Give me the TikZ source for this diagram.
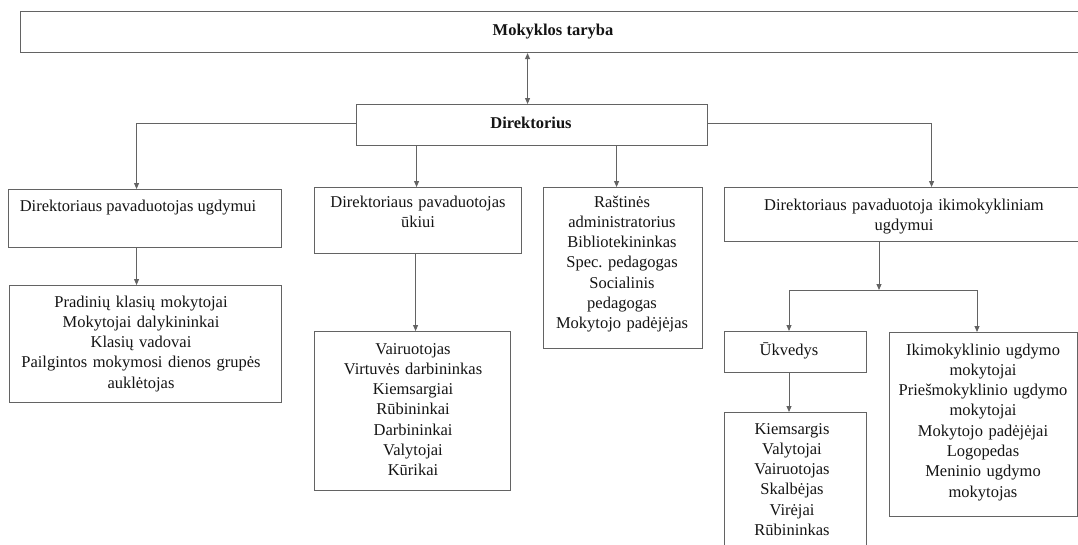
\documentclass[tikz,border=0pt]{standalone}
\usepackage{fontspec}
\setmainfont{Liberation Serif}
\usetikzlibrary{arrows.meta}
\definecolor{linegray}{HTML}{636363}
\definecolor{txt}{HTML}{141414}
\tikzset{
  box/.style={draw=linegray, line width=1.1pt, inner sep=0pt, anchor=north west},
  lbl/.style={text=txt, font=\fontsize{16.5}{20.3}\selectfont, align=center, inner sep=0pt, anchor=base},
  blbl/.style={lbl, font=\fontsize{16.5}{20.3}\selectfont\bfseries},
  conn/.style={draw=linegray, line width=0.9pt},
  arr/.style={conn, -{Triangle[length=6pt,width=5pt]}},
  dbl/.style={conn, {Triangle[length=6pt,width=5pt]}-{Triangle[length=6pt,width=5pt]}},
}
\frenchspacing
\begin{document}
\begin{tikzpicture}[x=1pt,y=-1pt]
\useasboundingbox[fill=white] (0,0) rectangle (1078,544);

% boxes
\node[box, minimum width=1066pt, minimum height=41pt] (top) at (20,11) {};
\node[box, minimum width=351pt, minimum height=41pt] (dir) at (356,104) {};
\node[box, minimum width=273pt, minimum height=58pt] (b1) at (8,189) {};
\node[box, minimum width=272pt, minimum height=117pt] (b1b) at (9,285) {};
\node[box, minimum width=207pt, minimum height=66pt] (b2) at (314,187) {};
\node[box, minimum width=196pt, minimum height=159pt] (b2b) at (314,331) {};
\node[box, minimum width=159pt, minimum height=161pt] (b3) at (543,187) {};
\node[box, minimum width=362pt, minimum height=54pt] (b4) at (724,187) {};
\node[box, minimum width=142pt, minimum height=41pt] (uk) at (724,331) {};
\node[box, minimum width=142pt, minimum height=150pt] (uks) at (724,412) {};
\node[box, minimum width=188pt, minimum height=184pt] (rb) at (889,332) {};

% texts
\node[blbl] (topt) at (553,35) {Mokyklos taryba};
\node[blbl] (dirt) at (531,128) {Direktorius};
\node[lbl] (b1t) at (138,211) {Direktoriaus pavaduotojas ugdymui};
\node[lbl, text width=270pt] (b1bt) at (141,307) {Pradinių klasių mokytojai\\Mokytojai dalykininkai\\Klasių vadovai\\Pailgintos mokymosi dienos grupės\\auklėtojas};
\node[lbl, text width=204pt] (b2t) at (418,207) {Direktoriaus pavaduotojas\\ūkiui};
\node[lbl, text width=190pt] (b2bt) at (413,354) {Vairuotojas\\Virtuvės darbininkas\\Kiemsargiai\\Rūbininkai\\Darbininkai\\Valytojai\\Kūrikai};
\node[lbl, text width=156pt] (b3t) at (622,207) {Raštinės\\administratorius\\Bibliotekininkas\\Spec. pedagogas\\Socialinis\\pedagogas\\Mokytojo padėjėjas};
\node[lbl, text width=340pt] (b4t) at (904,210) {Direktoriaus pavaduotoja ikimokykliniam\\ugdymui};
\node[lbl] (ukt) at (789,355) {Ūkvedys};
\node[lbl, text width=138pt] (ukst) at (792,434) {Kiemsargis\\Valytojai\\Vairuotojas\\Skalbėjas\\Virėjai\\Rūbininkas};
\node[lbl, text width=184pt] (rbt) at (983,355) {Ikimokyklinio ugdymo\\mokytojai\\Priešmokyklinio ugdymo\\mokytojai\\Mokytojo padėjėjai\\Logopedas\\Meninio ugdymo\\mokytojas};

% connectors
\draw[dbl] ([xshift=-4.5pt]dir.north |- top.south) -- ([xshift=-4.5pt]dir.north);
\draw[arr] ([yshift=1.5pt]dir.west) -| ([xshift=-8.5pt]b1.north);
\draw[arr] ([xshift=-1.5pt]b2.north |- dir.south) -- ([xshift=-1.5pt]b2.north);
\draw[arr] ([xshift=-6.5pt]b3.north |- dir.south) -- ([xshift=-6.5pt]b3.north);
\draw[arr] ([yshift=1.5pt]dir.east) -| ([xshift=26pt]b4.north);
\draw[arr] ([xshift=-8.5pt]b1.south) -- ([xshift=-8.5pt]b1.south |- b1b.north);
\draw[arr] ([xshift=-2.5pt]b2.south) -- ([xshift=-2.5pt]b2.south |- b2b.north);

\coordinate (jc) at (879,290);
\coordinate (jl) at (789,290);
\coordinate (jr) at (977,290);
\draw[arr] (b4.south -| jc) -- (jc);
\draw[conn] (jl) -- (jr);
\draw[arr] (jl) -- (jl |- uk.north);
\draw[arr] (jr) -- (jr |- rb.north);
\draw[arr] (jl |- uk.south) -- (jl |- uks.north);
\end{tikzpicture}
\end{document}
